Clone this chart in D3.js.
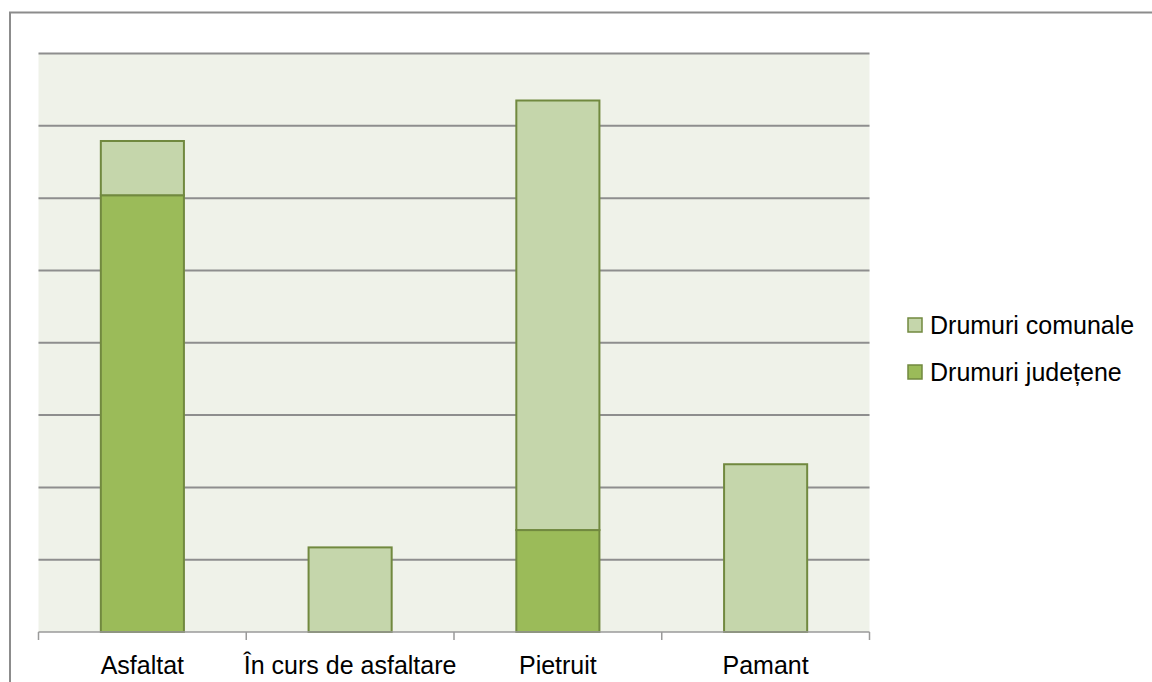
<!DOCTYPE html>
<html>
<head>
<meta charset="utf-8">
<script src="https://cdn.jsdelivr.net/npm/d3@7"></script>
<style>
  body { margin: 0; background: #fff; }
  svg { display: block; }
  .lbl { font-family: "Liberation Sans", Arial, sans-serif; font-size: 25px; fill: #000; }
</style>
</head>
<body>
<div id="chart"></div>
<script>
// data (units are arbitrary, gridline step = 10)
const categories = ["Asfaltat", "În curs de asfaltare", "Pietruit", "Pamant"];
const judetene = [60.4, 0, 14.1, 0];
const comunale = [7.5, 11.7, 59.4, 23.2];
const seriesNames = ["Drumuri județene", "Drumuri comunale"];
const yTicks = [0, 10, 20, 30, 40, 50, 60, 70, 80];

const width = 1152, height = 682;
const plot = {left: 38.5, right: 869.5, top: 53.5, bottom: 632};
const fills = {"Drumuri județene": "#9BBB59", "Drumuri comunale": "#C5D6AB"};
const edge = "#71893F";

const svg = d3.select("#chart").append("svg")
  .attr("width", width).attr("height", height);

// outer frame
svg.append("rect").attr("x", 10).attr("y", 12.5)
  .attr("width", width + 10).attr("height", height + 10)
  .attr("fill", "#fff").attr("stroke", "#8c8c8c").attr("stroke-width", 2);

const x = d3.scaleBand().domain(categories).range([plot.left, plot.right]);
const y = d3.scaleLinear().domain([0, 80]).range([plot.bottom, plot.top]);
const barW = x.bandwidth() * 0.4;

svg.append("rect").attr("x", plot.left).attr("y", plot.top)
  .attr("width", plot.right - plot.left).attr("height", plot.bottom - plot.top)
  .attr("fill", "#EFF2E9");

// gridlines
svg.append("g").selectAll("line").data(yTicks.slice(1)).join("line")
  .attr("x1", plot.left).attr("x2", plot.right)
  .attr("y1", d => y(d)).attr("y2", d => y(d))
  .attr("stroke", "#8e8e8e").attr("stroke-width", 2);

// stacked bars
const rows = categories.map((c, i) => ({cat: c, "Drumuri județene": judetene[i], "Drumuri comunale": comunale[i]}));
const stack = d3.stack().keys(seriesNames)(rows);

svg.append("g").selectAll("g").data(stack).join("g")
  .attr("fill", d => fills[d.key])
  .selectAll("rect").data(d => d.filter(s => s[1] - s[0] > 0)).join("rect")
  .attr("x", d => x(d.data.cat) + (x.bandwidth() - barW) / 2)
  .attr("y", d => y(d[1]))
  .attr("width", barW)
  .attr("height", d => y(d[0]) - y(d[1]))
  .attr("stroke", edge).attr("stroke-width", 2);

// x axis with ticks at category boundaries
const ax = svg.append("g");
ax.append("line").attr("x1", plot.left).attr("x2", plot.right)
  .attr("y1", plot.bottom).attr("y2", plot.bottom)
  .attr("stroke", "#9a9a9a").attr("stroke-width", 1.5);
const bounds = categories.map(c => x(c)).concat([plot.right]);
ax.selectAll(".tk").data(bounds).join("line").attr("class", "tk")
  .attr("x1", d => d).attr("x2", d => d)
  .attr("y1", plot.bottom).attr("y2", plot.bottom + 8)
  .attr("stroke", "#9a9a9a").attr("stroke-width", 1.5);
ax.selectAll("text").data(categories).join("text").attr("class", "lbl")
  .attr("x", d => x(d) + x.bandwidth() / 2).attr("y", 674)
  .attr("text-anchor", "middle").text(d => d);

// legend
const legendItems = ["Drumuri comunale", "Drumuri județene"];
const lg = svg.append("g").selectAll("g").data(legendItems).join("g")
  .attr("transform", (d, i) => `translate(908, ${318 + i * 47})`);
lg.append("rect").attr("width", 14).attr("height", 14)
  .attr("fill", d => fills[d]).attr("stroke", edge).attr("stroke-width", 1.5);
lg.append("text").attr("class", "lbl").attr("x", 22).attr("y", 16).text(d => d);
</script>
</body>
</html>
